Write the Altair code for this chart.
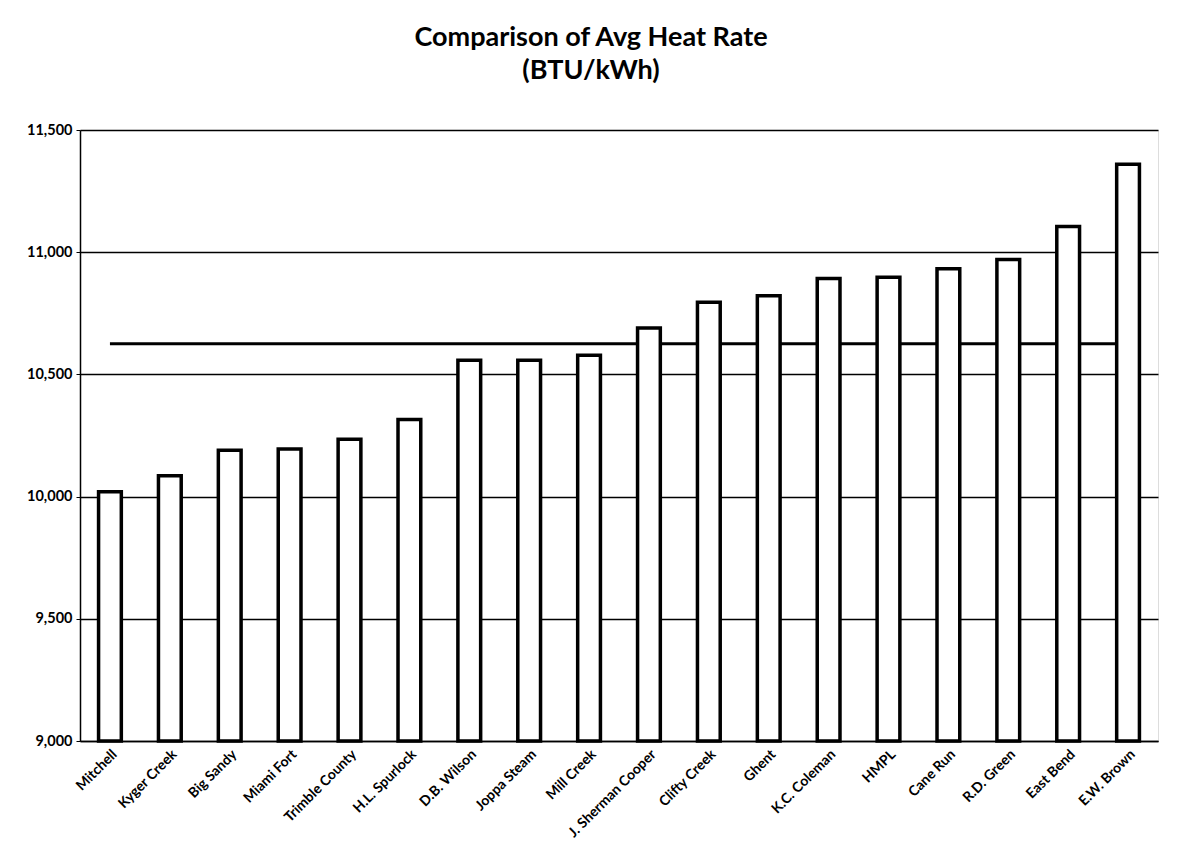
import altair as alt
import pandas as pd

plants = ["Mitchell", "Kyger Creek", "Big Sandy", "Miami Fort", "Trimble County",
          "H.L. Spurlock", "D.B. Wilson", "Joppa Steam", "Mill Creek",
          "J. Sherman Cooper", "Clifty Creek", "Ghent", "K.C. Coleman", "HMPL",
          "Cane Run", "R.D. Green", "East Bend", "E.W. Brown"]
heat_rate = [10020, 10085, 10190, 10195, 10235, 10315, 10558, 10558, 10578,
             10690, 10795, 10822, 10892, 10898, 10932, 10970, 11105, 11360]
average = [10625] * len(plants)
y_ticks = [9000, 9500, 10000, 10500, 11000, 11500]

df = pd.DataFrame({"plant": plants, "heat": heat_rate, "avg": average})

FONT = "Lato"

x = alt.X("plant:N", sort=plants, title=None,
          scale=alt.Scale(paddingInner=0.62, paddingOuter=0.31),
          axis=alt.Axis(labelAngle=-45, labelAlign="right", labelBaseline="top",
                        labelFont=FONT, labelFontWeight="bold", labelFontSize=14,
                        labelColor="black", labelPadding=6, ticks=False,
                        domain=True, domainColor="black", domainWidth=1.5,
                        grid=False))
y_scale = alt.Scale(domain=[9000, 11500], zero=False, nice=False)

line = alt.Chart(df).mark_line(color="black", strokeWidth=3).encode(
    x=x,
    y=alt.Y("avg:Q", scale=y_scale, title=None,
            axis=alt.Axis(values=y_ticks, format=",d", labelFont=FONT,
                          labelFontWeight="bold", labelFontSize=14.5,
                          labelColor="black", labelPadding=4, tickSize=4,
                          tickColor="black", domainColor="black", domainWidth=1.5,
                          gridColor="black", gridWidth=1.5, gridOpacity=1)),
)

bars = alt.Chart(df).mark_bar(fill="white", stroke="black", strokeWidth=3.5).encode(
    x=x,
    y=alt.Y("heat:Q", scale=y_scale),
    y2=alt.datum(9000),
)

chart = alt.layer(line, bars).properties(
    width=1078,
    height=611,
    title=alt.TitleParams(
        text=["Comparison of Avg Heat Rate", "(BTU/kWh)"],
        font=FONT, fontSize=27, fontWeight="bold", color="black",
        anchor="middle", lineHeight=33, offset=37, dx=-28,
    ),
    padding={"left": 72, "top": 122, "right": 11, "bottom": 110},
    autosize=alt.AutoSizeParams(type="none"),
).configure_view(stroke=None).configure(background="white")

chart.save("out.html", embed_options={"renderer": "svg", "actions": False})
